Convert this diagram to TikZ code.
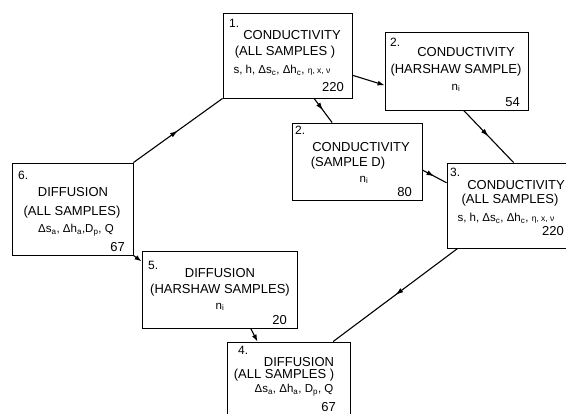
\documentclass[tikz,border=0pt]{standalone}
\usepackage{fontspec}
\setmainfont{Liberation Sans}
\usetikzlibrary{arrows.meta,decorations.markings,calc}
\begin{document}
\begin{tikzpicture}[x=1pt,y=-1pt,
  box/.style={draw,line width=0.9pt,inner sep=0pt},
  ttl/.style={inner sep=0pt,font=\fontsize{13}{13}\selectfont},
  num/.style={inner sep=0pt,anchor=west,font=\fontsize{12}{12}\selectfont},
  cnt/.style={inner sep=0pt,anchor=east,font=\fontsize{13}{13}\selectfont},
  par/.style={inner sep=0pt,font=\fontsize{11.5}{11.5}\selectfont},
  conn/.style={line width=1.1pt},
  endarrow/.style={-{Latex[length=7pt,width=5pt]}},
  midarrow/.style={postaction={decorate},decoration={markings,mark=at position 0.5 with {\arrow{Latex[length=8pt,width=5pt]}}}}]
\useasboundingbox (0,0) rectangle (566,414);
\clip (0,0) rectangle (566,414);

% boxes
\node[box,minimum width=129pt,minimum height=85pt] (B1) at (287.5,55.5) {};
\node[box,minimum width=143pt,minimum height=78pt] (B2H) at (456.5,71) {};
\node[box,minimum width=130pt,minimum height=77pt] (B2D) at (357,161.5) {};
\node[box,minimum width=128pt,minimum height=85pt] (B3) at (511,205.5) {};
\node[box,minimum width=121pt,minimum height=92pt] (B6) at (72.5,209) {};
\node[box,minimum width=155pt,minimum height=77pt] (B5) at (219.5,289.5) {};
\node[box,minimum width=123pt,minimum height=83pt] (B4) at (288.5,383.5) {};

\newcommand{\sm}[1]{{\fontsize{8.5}{8.5}\selectfont #1}}

% box 1
\node[num] (t1a) at (229,23) {1.};
\node[ttl] (t1b) at (292,35) {CONDUCTIVITY};
\node[ttl] (t1c) at (285,52) {(ALL SAMPLES )};
\node[par] (t1d) at (282,70) {s, h, Δs\textsubscript{c}, Δh\textsubscript{c}, \sm{η, x, ν}};
\node[cnt] (t1e) at (344,87) {220};

% box 2 Harshaw
\node[num] (t2a) at (390,42) {2.};
\node[ttl] (t2b) at (466,52) {CONDUCTIVITY};
\node[ttl] (t2c) at (456,70) {(HARSHAW SAMPLE)};
\node[par] (t2d) at (456,88) {n\textsubscript{i}};
\node[cnt] (t2e) at (520,102) {54};

% box 2 sample D
\node[num] (t3a) at (295,130) {2.};
\node[ttl] (t3b) at (361,147) {CONDUCTIVITY};
\node[ttl] (t3c) at (348,163) {(SAMPLE D)};
\node[par] (t3d) at (364,180) {n\textsubscript{i}};
\node[cnt] (t3e) at (412,192) {80};

% box 3
\node[num] (t4a) at (450,172) {3.};
\node[ttl,anchor=east] (t4b) at (565,185) {CONDUCTIVITY};
\node[ttl] (t4c) at (510,200) {(ALL SAMPLES)};
\node[par] (t4d) at (506,218) {s, h, Δs\textsubscript{c}, Δh\textsubscript{c}, \sm{η, x, ν}};
\node[cnt] (t4e) at (564,231) {220};

% box 6
\node[num] (t6a) at (18,175) {6.};
\node[ttl] (t6b) at (73,192) {DIFFUSION};
\node[ttl] (t6c) at (72,212) {(ALL SAMPLES)};
\node[par] (t6d) at (76,230) {Δs\textsubscript{a}, Δh\textsubscript{a},D\textsubscript{p}, Q};
\node[cnt] (t6e) at (125,247) {67};

% box 5
\node[num] (t5a) at (148,265) {5.};
\node[ttl] (t5b) at (220,273) {DIFFUSION};
\node[ttl] (t5c) at (220,290) {(HARSHAW SAMPLES)};
\node[par] (t5d) at (220,307) {n\textsubscript{i}};
\node[cnt] (t5e) at (287,320) {20};

% box 4
\node[num] (t7a) at (238,350) {4.};
\node[ttl] (t7b) at (299,362) {DIFFUSION};
\node[ttl] (t7c) at (284,375) {(ALL SAMPLES )};
\node[par] (t7d) at (294,390) {Δs\textsubscript{a}, Δh\textsubscript{a}, D\textsubscript{p}, Q};
\node[cnt] (t7e) at (336,407) {67};

% connectors
\draw[conn,midarrow] (B6.north east) -- (B1.south west);
\draw[conn,endarrow] ($(B1.north east)!0.73!(B1.south east)$) -- ($(B2H.north west)!0.68!(B2H.south west)$);
\draw[conn,midarrow] ($(B1.south west)!0.705!(B1.south east)$) -- ($(B2D.north west)!0.31!(B2D.north east)$);
\draw[conn,midarrow] ($(B2H.south west)!0.55!(B2H.south east)$) -- ($(B3.north west)!0.52!(B3.north east)$);
\draw[conn,midarrow] ($(B2D.north east)!0.61!(B2D.south east)$) -- ($(B3.north west)!0.235!(B3.south west)$);
\draw[conn,midarrow] ($(B3.south west)!0.086!(B3.south east)$) -- ($(B4.north west)!0.86!(B4.north east)$);
\draw[conn,endarrow] ($(B5.south west)!0.70!(B5.south east)$) -- ($(B4.north west)!0.25!(B4.north east)$);
\draw[conn,endarrow] (B6.south east) -- ($(B5.north west)!0.14!(B5.south west)$);
\end{tikzpicture}
\end{document}
